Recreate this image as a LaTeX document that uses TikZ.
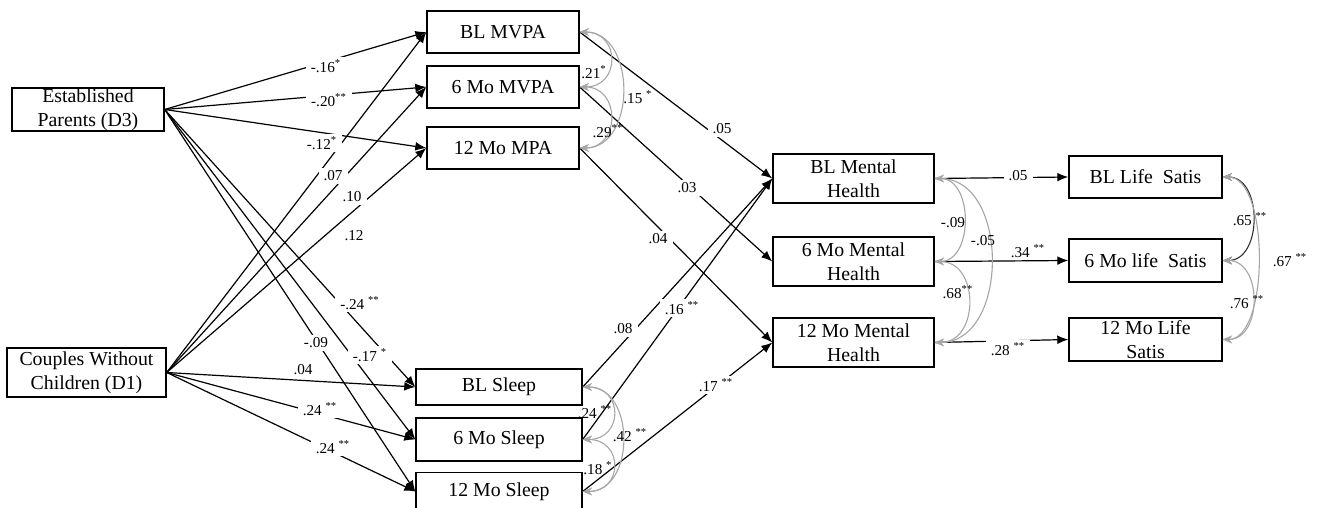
\documentclass[tikz,border=0pt]{standalone}
\usepackage{fontspec}
\setmainfont{Liberation Serif}
\usetikzlibrary{arrows.meta}
\newcommand{\sone}{\textsuperscript{*}}
\newcommand{\stwo}{\textsuperscript{**}}

\begin{document}
\begin{tikzpicture}[x=0.5pt,y=-0.5pt,
	box/.style={draw,line width=0.7pt,inner sep=0pt,align=center,font=\fontsize{9.9}{12}\selectfont},
	arr/.style={line width=0.6pt,-{Latex[length=5.5pt,width=4.4pt]}},
	cov/.style={draw=gray!70,line width=0.55pt,{Stealth[length=4.6pt,width=3.8pt]}-{Stealth[length=4.6pt,width=3.8pt]}},
	lbl/.style={fill=white,inner xsep=2.5pt,inner ysep=1.2pt,font=\fontsize{7.6}{8}\selectfont},
	clbl/.style={inner sep=0pt,font=\fontsize{7.6}{8}\selectfont}]
	\path[use as bounding box,fill=white] (0,0) rectangle (1321,508);
	\node[box,minimum width=76pt,minimum height=21.5pt] (d3) at (88,109.5) {Established\\Parents (D3)};
	\node[box,minimum width=79.5pt,minimum height=24.5pt] (d1) at (86.5,372.5) {Couples Without\\Children (D1)};
	\node[box,minimum width=76pt,minimum height=21pt] (blmvpa) at (503,32) {BL MVPA};
	\node[box,minimum width=76pt,minimum height=21pt] (mvpa6) at (503,87) {6 Mo MVPA};
	\node[box,minimum width=76pt,minimum height=21pt] (mpa12) at (503,148) {12 Mo MPA};
	\node[box,minimum width=83pt,minimum height=18pt] (blsleep) at (499,387) {BL Sleep};
	\node[box,minimum width=83pt,minimum height=21.5pt] (sleep6) at (499,439.5) {6 Mo Sleep};
	\node[box,minimum width=83pt,minimum height=19pt] (sleep12) at (499,491.5) {12 Mo Sleep};
	\node[box,minimum width=80.5pt,minimum height=24.5pt] (mh1) at (853.5,178.5) {BL Mental\\Health};
	\node[box,minimum width=80.5pt,minimum height=24.5pt] (mh6) at (853.5,261.5) {6 Mo Mental\\Health};
	\node[box,minimum width=80.5pt,minimum height=24.5pt] (mh12) at (853.5,342.5) {12 Mo Mental\\Health};
	\node[box,minimum width=76.5pt,minimum height=21pt] (ls1) at (1145.5,177) {BL Life~~Satis};
	\node[box,minimum width=76.5pt,minimum height=21.5pt] (ls6) at (1145.5,260.5) {6 Mo life~~Satis};
	\node[box,minimum width=76.5pt,minimum height=21.5pt] (ls12) at (1145.5,339.5) {12 Mo Life\\Satis};

	\draw[arr] (d3.east) -- (blmvpa.west);
	\draw[arr] (d3.east) -- (mvpa6.west);
	\draw[arr] (d3.east) -- (mpa12.west);
	\draw[arr] (d3.east) -- (blsleep.west);
	\draw[arr] (d3.east) -- (sleep6.west);
	\draw[arr] (d3.east) -- (sleep12.west);
	\draw[arr] (d1.east) -- (blmvpa.west);
	\draw[arr] (d1.east) -- (mvpa6.west);
	\draw[arr] (d1.east) -- (mpa12.west);
	\draw[arr] (d1.east) -- (blsleep.west);
	\draw[arr] (d1.east) -- (sleep6.west);
	\draw[arr] (d1.east) -- (sleep12.west);
	\draw[arr] (blmvpa.east) -- (mh1.west);
	\draw[arr] (mvpa6.east) -- (mh6.west);
	\draw[arr] (mpa12.east) -- (mh12.west);
	\draw[arr] (blsleep.east) -- (mh1.west);
	\draw[arr] (sleep6.east) -- (mh1.west);
	\draw[arr] (sleep12.east) -- (mh12.west);
	\draw[arr] (mh1.east) -- (ls1.west);
	\draw[arr] (mh6.east) -- (ls6.west);
	\draw[arr] (mh12.east) -- (ls12.west);

	\draw[cov] (blmvpa.east) .. controls +(41,0) and +(41,0) .. (mvpa6.east);
	\draw[cov] (blmvpa.east) .. controls +(57,0) and +(57,0) .. (mpa12.east);
	\draw[cov] (mvpa6.east) .. controls +(41,0) and +(41,0) .. (mpa12.east);
	\draw[cov] (blsleep.east) .. controls +(41,0) and +(41,0) .. (sleep6.east);
	\draw[cov] (blsleep.east) .. controls +(53,0) and +(53,0) .. (sleep12.east);
	\draw[cov] (sleep6.east) .. controls +(41,0) and +(41,0) .. (sleep12.east);
	\draw[cov] (mh1.east) .. controls +(39,0) and +(39,0) .. (mh6.east);
	\draw[cov] (mh1.east) .. controls +(75,0) and +(75,0) .. (mh12.east);
	\draw[cov] (mh6.east) .. controls +(45,0) and +(45,0) .. (mh12.east);
	\draw[cov,draw=gray!40!black] (ls1.east) .. controls +(40,0) and +(40,0) .. (ls6.east);
	\draw[cov] (ls1.east) .. controls +(47,0) and +(47,0) .. (ls12.east);
	\draw[cov] (ls6.east) .. controls +(40,0) and +(40,0) .. (ls12.east);

	\node[lbl] (l1) at (326,66) {-.16\sone};
	\node[lbl] (l2) at (329,100) {-.20\stwo};
	\node[lbl] (l3) at (322,143) {-.12\sone};
	\node[lbl] (l4) at (333,176) {.07};
	\node[lbl] (l5) at (352,197) {.10};
	\node[lbl] (l6) at (354,236) {.12};
	\node[lbl] (l7) at (360,303) {-.24~\stwo};
	\node[lbl] (l8) at (316,343) {-.09};
	\node[lbl] (l9) at (370,355) {-.17~\sone};
	\node[lbl] (l10) at (303,370) {.04};
	\node[lbl] (l11) at (320,409) {.24~\stwo};
	\node[lbl] (l12) at (333,447) {.24~\stwo};
	\node[clbl] (l13) at (594,72) {.21\sone};
	\node[clbl] (l14) at (638,97) {.15~\sone};
	\node[clbl] (l15) at (608,131) {.29\stwo};
	\node[lbl] (l16) at (722,129) {.05};
	\node[lbl] (l17) at (687,188) {.03};
	\node[lbl] (l18) at (658,239) {.04};
	\node[lbl] (l19) at (623,329) {.08};
	\node[lbl] (l20) at (682,308) {.16~\stwo};
	\node[lbl] (l21) at (716,385) {.17~\stwo};
	\node[clbl] (l22) at (595,412) {.24~\stwo};
	\node[clbl] (l23) at (630,435) {.42~\stwo};
	\node[clbl] (l24) at (598,468) {.18~\sone};
	\node[clbl] (l25) at (953,223) {-.09};
	\node[clbl] (l26) at (983,241) {-.05};
	\node[clbl] (l27) at (958,292) {.68\stwo};
	\node[lbl] (l28) at (1018,176) {.05};
	\node[lbl] (l29) at (1028,251) {.34~\stwo};
	\node[lbl] (l30) at (1008,349) {.28~\stwo};
	\node[clbl] (l31) at (1250,219) {.65~\stwo};
	\node[clbl] (l32) at (1290,260) {.67~\stwo};
	\node[clbl] (l33) at (1247,302) {.76~\stwo};
\end{tikzpicture}
\end{document}
